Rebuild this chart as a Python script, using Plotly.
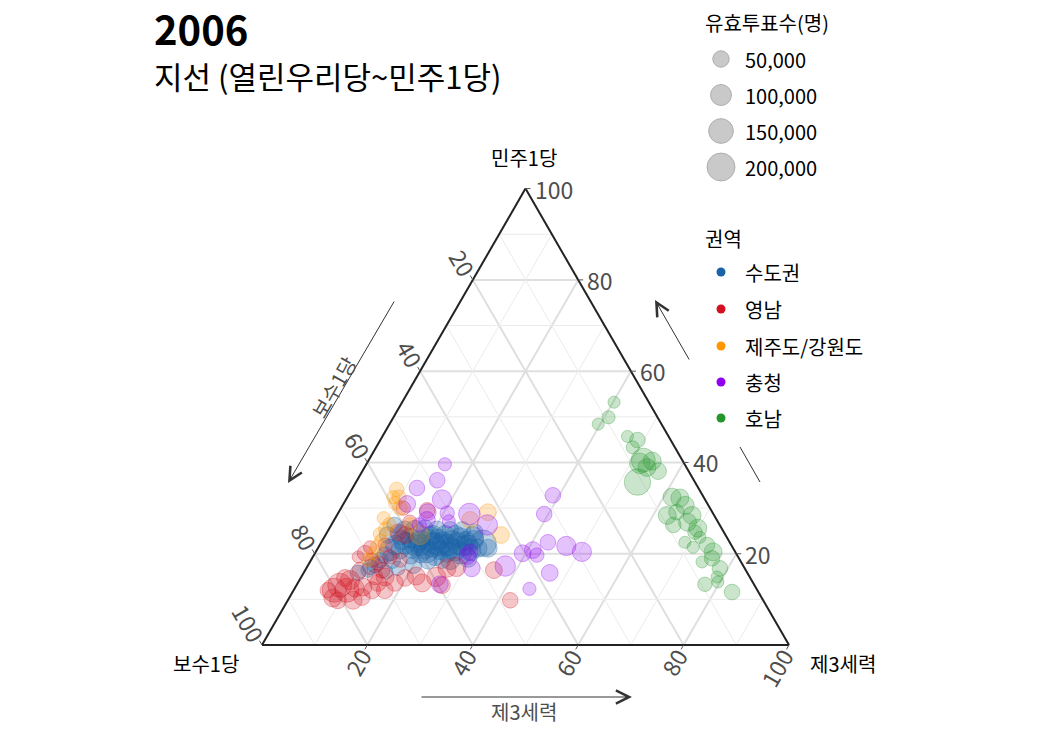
import math
import plotly.graph_objects as go

# ---------------- data ----------------
# a = 민주1당 share (%), c = 제3세력 share (%), 보수1당 = remainder (ternary sum 100)
# v = 유효투표수 (valid votes)
REGIONS = ["수도권", "영남", "제주도/강원도", "충청", "호남"]
COLORS = ["#1b63a8", "#d4111f", "#ff9600", "#9000f0", "#24962a"]

sudo_a = [24.1, 22.3, 23.4, 21.9, 23.0, 21.2, 23.9, 21.9, 23.0, 20.8, 24.1, 21.9, 23.0, 20.8,
          23.6, 21.7, 22.8, 20.8, 23.0, 21.2, 22.3, 23.6, 20.1, 18.6, 19.5, 20.1, 19.7, 20.8,
          20.8, 21.9, 19.7, 18.6, 17.5, 16.4, 18.6, 25.2, 25.2, 25.6, 25.2, 25.2, 25.2, 24.7,
          18.6, 18.6, 17.5, 16.8, 16.0, 19.0, 21.2, 26.3, 24.1, 15.8, 17.1, 21.9, 22.3, 21.2,
          22.5, 23.0, 22.5, 22.3, 21.9, 21.2, 20.4, 20.4, 24.1, 24.1, 23.0, 21.9]
sudo_c = [14.2, 16.0, 16.4, 18.1, 18.5, 20.3, 20.0, 21.4, 21.9, 23.4, 22.7, 24.4, 24.6, 26.2,
          25.8, 27.2, 27.3, 29.1, 28.7, 30.4, 30.8, 28.2, 27.6, 26.4, 23.1, 20.0, 18.3, 15.8,
          13.9, 14.3, 13.5, 13.1, 12.7, 11.9, 15.4, 14.5, 16.4, 18.1, 20.6, 23.1, 25.4, 28.0,
          24.9, 22.2, 20.0, 17.4, 15.5, 29.6, 32.3, 12.0, 11.8, 10.3, 12.0, 19.0, 21.6, 25.1,
          18.4, 20.0, 23.1, 26.0, 28.1, 17.9, 21.1, 24.9, 20.4, 24.6, 15.1, 22.8]
sudo_v = [80000, 108000, 80000, 108000, 94000, 108000, 80000, 140000, 108000, 80000,
          80000, 108000, 80000, 108000, 80000, 94000, 80000, 108000, 80000, 66000,
          176000, 108000, 108000, 80000, 80000, 80000, 66000, 66000, 108000, 80000,
          54000, 43000, 43000, 32000, 54000, 66000, 80000, 54000, 66000, 54000,
          54000, 54000, 54000, 66000, 54000, 32000, 32000, 66000, 66000, 43000,
          54000, 43000, 43000, 108000, 108000, 108000,
          94000, 108000, 94000, 108000, 94000, 94000, 108000, 94000, 80000, 80000,
          80000, 108000]

yeong_a = [30.0, 24.7, 24.1, 20.1, 19.3, 18.6, 17.9, 16.4, 19.3, 13.1, 12.0, 12.0, 12.5, 12.7,
           12.0, 13.6, 14.9, 14.9, 9.8, 10.3, 10.5, 13.6, 14.7, 15.1, 13.6, 14.9, 13.1, 16.8,
           17.1, 16.4, 9.8, 18.6, 14.7, 16.4, 12.0, 14.2, 21.9, 21.4, 26.9, 29.5, 9.8, 12.0]
yeong_c = [11.8, 13.5, 15.1, 9.5, 8.6, 11.6, 13.1, 14.6, 14.6, 8.2, 7.7, 10.1, 11.4, 12.8,
           14.9, 15.2, 15.9, 14.0, 12.4, 8.3, 13.7, 18.4, 19.8, 21.7, 23.6, 25.6, 27.6, 26.7,
           28.3, 35.8, 42.2, 16.9, 8.4, 10.4, 6.5, 9.6, 12.4, 9.8, 14.6, 16.6, 9.5, 17.3]
yeong_v = [32000, 54000, 54000, 43000, 14000, 32000, 32000, 43000, 32000, 140000,
           140000, 140000, 66000, 66000, 54000, 54000, 66000, 43000, 66000, 66000,
           54000, 54000, 54000, 66000, 66000, 80000, 54000, 66000, 80000, 54000,
           43000, 32000, 54000, 43000, 43000, 80000, 32000, 22000, 32000, 43000,
           54000, 54000]

jg_a = [34.1, 32.4, 32.4, 27.8, 25.4, 24.3, 21.4, 20.1, 24.1, 29.1, 27.4, 24.1, 30.0, 18.6,
        26.3, 31.1, 26.5, 22.8]
jg_c = [8.5, 9.8, 8.7, 9.2, 10.8, 10.2, 11.1, 11.0, 17.9, 28.3, 25.8, 33.3, 11.2, 10.8,
        15.0, 9.7, 10.9, 11.2]
jg_v = [32000, 32000, 22000, 22000, 32000, 22000, 32000, 22000, 80000, 54000, 54000, 54000,
        32000, 22000, 32000, 22000, 22000, 22000]

cc_a = [39.6, 36.1, 34.4, 31.9, 28.9, 28.7, 27.1, 26.3, 32.8, 28.7, 22.5, 21.7, 20.4, 20.1,
        20.8, 19.7, 15.8, 12.3, 17.3, 16.8, 20.4, 19.5, 13.3, 27.4, 29.1, 30.9, 26.3]
cc_c = [14.9, 15.2, 12.2, 18.2, 20.7, 25.0, 21.9, 29.6, 38.8, 39.2, 43.0, 46.9, 50.5, 39.4,
        41.0, 42.3, 46.7, 44.6, 37.5, 31.4, 29.3, 29.2, 27.1, 17.6, 16.9, 12.1, 16.7]
cc_v = [22000, 43000, 43000, 80000, 32000, 108000, 22000, 94000, 43000, 43000, 43000, 80000,
        80000, 54000, 54000, 32000, 54000, 22000, 94000, 54000, 43000, 54000, 54000, 54000,
        54000, 54000, 32000]

hn_a = [53.2, 49.9, 48.4, 45.7, 44.9, 43.3, 40.5, 39.8, 40.3, 38.1, 35.7, 38.9, 32.4, 32.2,
        29.1, 30.6, 28.4, 28.4, 26.3, 26.9, 25.6, 24.7, 23.6, 22.5, 21.4, 21.9, 20.4, 19.0,
        18.2, 16.8, 14.9, 13.8, 13.3, 11.6]
hn_c = [40.2, 40.8, 39.6, 46.5, 48.8, 48.7, 52.1, 51.8, 53.9, 56.1, 53.4, 53.6, 61.6, 63.2,
        64.1, 65.0, 67.4, 62.7, 64.9, 67.3, 69.9, 69.8, 71.3, 69.0, 71.1, 73.5, 75.4, 75.9,
        74.4, 78.5, 78.9, 79.6, 77.4, 83.4]
hn_v = [14000, 22000, 14000, 14000, 43000, 22000, 140000, 94000, 66000, 54000, 176000, 66000,
        66000, 66000, 43000, 66000, 66000, 66000, 43000, 66000, 66000, 32000, 14000, 14000,
        14000, 43000, 66000, 43000, 14000, 43000, 14000, 14000, 32000, 43000]

SIZE_LEGEND_VOTES = [50000, 100000, 150000, 200000]
SIZE_LEGEND_LABELS = ["50,000", "100,000", "150,000", "200,000"]
TICK_VALUES = [20, 40, 60, 80, 100]

AXIS_A, AXIS_B, AXIS_C = "민주1당", "보수1당", "제3세력"
TITLE = "2006"
SUBTITLE = "지선 (열린우리당~민주1당)"

# ---------------- geometry / style ----------------
FIG_W, FIG_H = 1050, 750
TRI_L, TRI_R, TRI_BOT = 262.0, 789.0, 645.0
SQ3 = math.sqrt(3)
TRI_W = TRI_R - TRI_L
TRI_H = TRI_W * SQ3 / 2
TRI_TOP = TRI_BOT - TRI_H
FONT = "Noto Sans CJK KR"
TICK_COLOR = "#4d4d4d"
ALPHAS = [0.4, 0.34, 0.34, 0.34, 0.34]


def tern_px(a, b, c):
    s = a + b + c
    return TRI_L + TRI_W * (c + a / 2) / s, TRI_BOT - TRI_H * a / s


def vote_size(v):
    return math.sqrt(9.9 ** 2 + 0.0034 * v)


def rgba(hexc, alpha):
    h = hexc.lstrip("#")
    r, g, b = int(h[0:2], 16), int(h[2:4], 16), int(h[4:6], 16)
    return f"rgba({r},{g},{b},{alpha})"


fig = go.Figure()

# minor grid lines (10, 30, 50, 70, 90)
ga, gb, gc = [], [], []
for v in [10, 30, 50, 70, 90]:
    ga += [v, v, None, 100 - v, 0, None, 100 - v, 0, None]
    gb += [100 - v, 0, None, v, v, None, 0, 100 - v, None]
    gc += [0, 100 - v, None, 0, 100 - v, None, v, v, None]
fig.add_trace(go.Scatterternary(a=ga, b=gb, c=gc, mode="lines",
                                line=dict(color="#ebebeb", width=1),
                                hoverinfo="skip", showlegend=False))

series = [(sudo_a, sudo_c, sudo_v), (yeong_a, yeong_c, yeong_v), (jg_a, jg_c, jg_v),
          (cc_a, cc_c, cc_v), (hn_a, hn_c, hn_v)]
for name, col, alpha, (sa, sc, sv) in zip(REGIONS, COLORS, ALPHAS, series):
    fig.add_trace(go.Scatterternary(
        a=sa, c=sc, mode="markers", name=name,
        marker=dict(size=[vote_size(v) for v in sv], color=rgba(col, alpha),
                    line=dict(color=rgba(col, 0.5), width=1)),
        showlegend=False))

# manual legends on a hidden pixel-coordinate cartesian layer
LEG_X = 721
size_rows = [59, 95, 131, 167]
color_rows = [272, 309, 346, 382, 418]
fig.add_trace(go.Scatter(x=[LEG_X] * len(SIZE_LEGEND_VOTES), y=size_rows, mode="markers",
                         marker=dict(size=[vote_size(v) for v in SIZE_LEGEND_VOTES],
                                     color="#b3b3b3", line=dict(color="#8c8c8c", width=1)),
                         hoverinfo="skip", showlegend=False, xaxis="x", yaxis="y"))
fig.add_trace(go.Scatter(x=[LEG_X] * len(REGIONS), y=color_rows, mode="markers",
                         marker=dict(size=9, color=COLORS),
                         hoverinfo="skip", showlegend=False, xaxis="x", yaxis="y"))

ann = []
shapes = []


def text(x, y, t, size, color="black", xanchor="center", angle=0, bold=False):
    ann.append(dict(x=x, y=y, xref="x", yref="y", text=f"<b>{t}</b>" if bold else t,
                    showarrow=False, xanchor=xanchor, yanchor="middle", textangle=angle,
                    borderpad=0,
                    font=dict(size=size, color=color, family=FONT)))


# titles
text(153, 28, TITLE, 40, xanchor="left", bold=True)
text(153, 75, SUBTITLE, 31, xanchor="left")

# legend texts
text(704, 22, "유효투표수(명)", 20, xanchor="left")
for yv, lab in zip(size_rows, SIZE_LEGEND_LABELS):
    text(744, yv, lab, 20, xanchor="left")
text(704, 238, "권역", 20, xanchor="left")
for yv, lab in zip(color_rows, REGIONS):
    text(744, yv, lab, 20, xanchor="left")

# vertex titles
text(524, 157, AXIS_A, 20)
text(206, 663, AXIS_B, 20)
text(843, 663, AXIS_C, 20)

# tick labels & tick marks (clockwise convention)
TFS = 23
for v in TICK_VALUES:
    lab = str(v)
    half = 0.55 * TFS * len(lab) / 2
    # a on right edge
    x, y = tern_px(v, 0, 100 - v)
    text(x + 8, y, lab, TFS, TICK_COLOR, xanchor="left")
    shapes.append(dict(type="line", xref="x", yref="y", x0=x, y0=y, x1=x + 5, y1=y,
                       line=dict(color="#555", width=1)))
    # b on left edge
    x, y = tern_px(100 - v, v, 0)
    ux, uy = -0.5, -SQ3 / 2
    d = 7 + half
    text(x + ux * d, y + uy * d, lab, TFS, TICK_COLOR, angle=60)
    shapes.append(dict(type="line", xref="x", yref="y", x0=x, y0=y, x1=x + ux * 5, y1=y + uy * 5,
                       line=dict(color="#555", width=1)))
    # c on bottom edge
    x, y = tern_px(0, 100 - v, v)
    ux, uy = -0.5, SQ3 / 2
    text(x + ux * d, y + uy * d, lab, TFS, TICK_COLOR, angle=-60)
    shapes.append(dict(type="line", xref="x", yref="y", x0=x, y0=y, x1=x + ux * 5, y1=y + uy * 5,
                       line=dict(color="#555", width=1)))

# direction arrows
ARROW = "#333333"


def arrow(hx, hy, tx, ty):
    ann.append(dict(x=hx, y=hy, xref="x", yref="y", ax=tx - hx, ay=ty - hy, axref="pixel",
                    ayref="pixel", text="", showarrow=True, arrowhead=5, arrowsize=2.6,
                    arrowwidth=1, arrowcolor=ARROW, standoff=0, startstandoff=0))


arrow(288, 483, 395, 300)
text(333, 387, AXIS_B, 20, TICK_COLOR, angle=-60)
arrow(632, 697, 420, 697)
text(524, 711, AXIS_C, 20, TICK_COLOR)
arrow(655, 300, 690, 361)
shapes.append(dict(type="line", xref="x", yref="y", x0=740, y0=447, x1=760, y1=482,
                   line=dict(color=ARROW, width=1)))

axis_common = dict(showgrid=True, gridcolor="#dfdfdf", gridwidth=1.8, dtick=20, tick0=0,
                   showticklabels=False, ticks="", showline=True, linecolor="#222222",
                   linewidth=2, title=dict(text=""), layer="above traces")

fig.update_layout(
    width=FIG_W, height=FIG_H,
    margin=dict(l=0, r=0, t=0, b=0),
    paper_bgcolor="white", plot_bgcolor="white",
    showlegend=False,
    font=dict(family=FONT),
    ternary=dict(
        sum=100,
        domain=dict(x=[TRI_L / FIG_W, TRI_R / FIG_W],
                    y=[1 - TRI_BOT / FIG_H, 1 - TRI_TOP / FIG_H]),
        bgcolor="rgba(0,0,0,0)",
        aaxis=axis_common, baxis=axis_common, caxis=axis_common,
    ),
    xaxis=dict(range=[0, FIG_W], domain=[0, 1], visible=False, fixedrange=True),
    yaxis=dict(range=[FIG_H, 0], domain=[0, 1], visible=False, fixedrange=True),
    annotations=ann,
    shapes=shapes,
)

fig.write_html("out.html")
